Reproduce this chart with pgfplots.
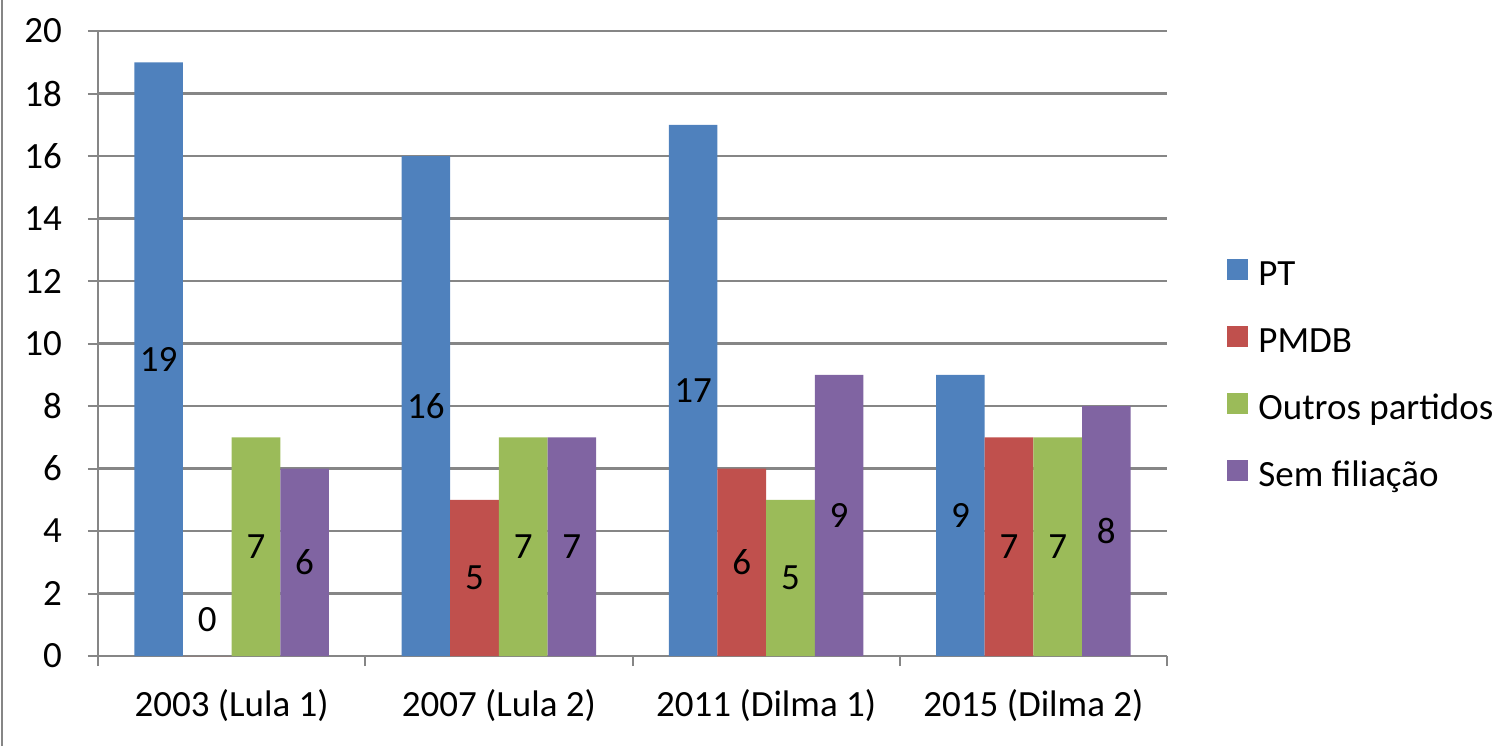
\documentclass[border=0pt]{standalone}
\usepackage{pgfplots}
\pgfplotsset{compat=1.18}
\usepackage{fontspec}
\setmainfont{Carlito}
\definecolor{cPT}{HTML}{4F81BD}
\definecolor{cPMDB}{HTML}{C0504D}
\definecolor{cOut}{HTML}{9BBB59}
\definecolor{cSem}{HTML}{8064A2}
\definecolor{gridc}{HTML}{868686}
\pgfplotstableread{
x PT PMDB Outros Sem
0 19 0 7 6
1 16 5 7 7
2 17 6 5 9
3 9 7 7 8
}\data
\begin{document}
\begin{tikzpicture}
\useasboundingbox (-49pt,-45pt) rectangle (701pt,328pt);
\draw[gridc, line width=1pt] (-48pt,-45pt) -- (-48pt,328pt);
\begin{axis}[
  at={(0,0)}, anchor=south west,
  scale only axis, width=534.5pt, height=312.5pt,
  ybar=0pt, bar width=0.182,
  xmin=-0.5, xmax=3.5, ymin=0, ymax=20,
  ytick={0,2,...,20},
  xtick={-0.5,0.5,1.5,2.5,3.5},
  x tick label as interval,
  xticklabels={2003 (Lula 1),2007 (Lula 2),2011 (Dilma 1),2015 (Dilma 2)},
  tick style={gridc, line width=1pt},
  major tick length=5pt,
  tick align=outside,
  ymajorgrids, grid style={gridc, line width=1.3pt},
  axis x line*=bottom, axis y line*=left,
  axis line style={gridc, line width=1.2pt, -},
  tick label style={font=\fontsize{18.5}{22}\selectfont, text=black},
  /pgf/number format/assume math mode=true,
  yticklabel style={xshift=-9.5pt},
  xticklabel style={yshift=-8pt},
  nodes near coords,
  visualization depends on={ifthenelse(y==0,-2.3,y) \as \rawy},
  every node near coord/.append style={anchor=center, font=\fontsize{18.5}{22}\selectfont, text=black,
     shift={(axis direction cs:0,-\rawy/2)}},
  legend style={draw=none, fill=none, at={(axis description cs:1,0.5)}, anchor=west,
     xshift=30pt, yshift=-16.5pt, inner sep=0pt, row sep=16.5pt,
     font=\fontsize{18.5}{22}\selectfont,
     nodes={inner sep=0pt, text height=13pt, text depth=4pt}},
  legend cell align=left,
  legend image code/.code={\fill[#1] (0pt,-2pt) rectangle (10.5pt,8.5pt); \path (15.5pt,0pt);},
]
\addplot[fill=cPT, draw=none] table[x=x,y=PT]{\data};
\addplot[fill=cPMDB, draw=none] table[x=x,y=PMDB]{\data};
\addplot[fill=cOut, draw=none] table[x=x,y=Outros]{\data};
\addplot[fill=cSem, draw=none] table[x=x,y=Sem]{\data};
\legend{PT,PMDB,Outros partidos,Sem filiação}
\end{axis}
\end{tikzpicture}
\end{document}
